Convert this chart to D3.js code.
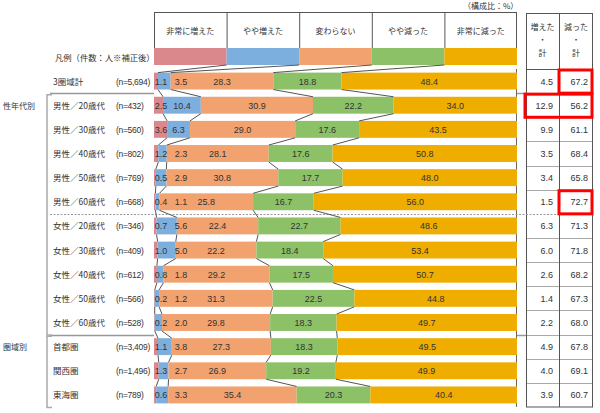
<!DOCTYPE html>
<html><head><meta charset="utf-8">
<script src="https://cdn.jsdelivr.net/npm/d3@7"></script>
<style>
html,body{margin:0;padding:0;background:#fff;}
svg text{font-family:"Noto Sans CJK JP","Liberation Sans",sans-serif;fill:#333;}
.num{font-family:"Liberation Sans",Arial,sans-serif;}
</style></head>
<body>
<svg id="c" width="600" height="413"></svg>
<script>
const categories = ["3圏域計","男性／20歳代","男性／30歳代","男性／40歳代","男性／50歳代","男性／60歳代","女性／20歳代","女性／30歳代","女性／40歳代","女性／50歳代","女性／60歳代","首都圏","関西圏","東海圏"];
const nLabels = ["(n=5,694)","(n=432)","(n=560)","(n=802)","(n=769)","(n=668)","(n=346)","(n=409)","(n=612)","(n=566)","(n=528)","(n=3,409)","(n=1,496)","(n=789)"];
const seriesNames = ["非常に増えた","やや増えた","変わらない","やや減った","非常に減った"];
const seriesColors = ["#DA888C","#7DAFDE","#F2A26E","#8CC168","#EFAD00"];
const veryInc = [1.1,2.5,3.6,1.2,0.5,0.4,0.7,1.0,0.8,0.2,0.2,1.1,1.3,0.6];
const someInc = [3.5,10.4,6.3,2.3,2.9,1.1,5.6,5.0,1.8,1.2,2.0,3.8,2.7,3.3];
const same    = [28.3,30.9,29.0,28.1,30.8,25.8,22.4,22.2,29.2,31.3,29.8,27.3,26.9,35.4];
const someDec = [18.8,22.2,17.6,17.6,17.7,16.7,22.7,18.4,17.5,22.5,18.3,18.3,19.2,20.3];
const veryDec = [48.4,34.0,43.5,50.8,48.0,56.0,48.6,53.4,50.7,44.8,49.7,49.5,49.9,40.4];
const incTotal = [4.5,12.9,9.9,3.5,3.4,1.5,6.3,6.0,2.6,1.4,2.2,4.9,4.0,3.9];
const decTotal = [67.2,56.2,61.1,68.4,65.8,72.7,71.3,71.8,68.2,67.3,68.0,67.8,69.1,60.7];
const groups = [{label:"性年代別", from:1, to:10},{label:"圏域別", from:11, to:13}];
const highlights = [{row:0, cols:[1]},{row:1, cols:[0,1]},{row:5, cols:[1]}];
const tableHeads = [["増えた","・","計"],["減った","・","計"]];

const svg = d3.select("#c");
const X0 = 154, X1 = 517;
const x = d3.scaleLinear().domain([0,100]).range([X0, X1]);
const y = d3.scaleBand().domain(categories).range([69, 407]).paddingInner(0.3).paddingOuter(0.15);
const bw = y.bandwidth();
const leg = d3.scaleBand().domain(seriesNames).range([X0, X1]);
const TX = [526, 559, 593];

const rows = categories.map((c,i)=>{
  const vals = [veryInc[i], someInc[i], same[i], someDec[i], veryDec[i]];
  const tot = d3.sum(vals);
  let acc = 0;
  const segs = vals.map((v,k)=>{ const s = acc/tot*100; acc += v; return {k, v, s, e: acc/tot*100}; });
  return {c, i, segs};
});

// header boxes
const hg = svg.append("g");
hg.append("line").attr("x1",X0).attr("x2",X1).attr("y1",12.5).attr("y2",12.5).attr("stroke","#555");
seriesNames.forEach((s)=>{
  hg.append("line").attr("x1",leg(s)+0.5).attr("x2",leg(s)+0.5).attr("y1",12).attr("y2",48).attr("stroke","#555");
  hg.append("text").attr("x",leg(s)+leg.bandwidth()/2).attr("y",34).attr("text-anchor","middle").attr("font-size",8).text(s);
  hg.append("rect").attr("x",leg(s)).attr("y",48).attr("width",leg.bandwidth()).attr("height",17).attr("fill",seriesColors[seriesNames.indexOf(s)]);
});
hg.append("line").attr("x1",X1-0.5).attr("x2",X1-0.5).attr("y1",12).attr("y2",48).attr("stroke","#555");
svg.append("text").attr("x",463).attr("y",9).attr("font-size",8).text("（構成比：%）");
svg.append("text").attr("x",55).attr("y",61).attr("font-size",8.3).text("凡例（件数：人※補正後）");

// right axis line
svg.append("line").attr("x1",X1-0.5).attr("x2",X1-0.5).attr("y1",69).attr("y2",407).attr("stroke","#666");

// table row lines
const tg = svg.append("g");
for (let i=1;i<rows.length;i++){
  if (i===6) continue;
  const yy = Math.round(69 + y.step()*i)+0.5;
  tg.append("line").attr("x1",TX[0]).attr("x2",TX[2]).attr("y1",yy).attr("y2",yy).attr("stroke","#aaa");
}

// separators
const sepY = (a)=> (y(categories[a]) + bw + y(categories[a+1]))/2;
[[0,"solid"],[10,"solid"]].forEach(([a])=>{
  const yy = Math.round(sepY(a))+0.5;
  [[50,X0],[X1,526]].forEach(([xa,xb])=>{
    svg.append("line").attr("x1",xa).attr("x2",xb).attr("y1",yy).attr("y2",yy)
      .attr("stroke","#999").attr("stroke-width",1.5);
  });
});
{
  const yy = Math.round(sepY(5))+0.5;
  svg.append("line").attr("x1",50).attr("x2",TX[2]).attr("y1",yy).attr("y2",yy)
    .attr("stroke","#999").attr("stroke-dasharray","2,1.5");
}

// bars
const bg = svg.append("g");
rows.forEach(r=>{
  bg.selectAll(null).data(r.segs).enter().append("rect")
    .attr("x",d=>x(d.s)).attr("width",d=>Math.max(0,x(d.e)-x(d.s)))
    .attr("y",y(r.c)).attr("height",bw).attr("fill",d=>seriesColors[d.k]);
});
// connectors
const cg = svg.append("g").attr("stroke","#555").attr("stroke-width",1).attr("fill","none");
for (let k=1;k<5;k++){
  cg.append("line").attr("x1",leg(seriesNames[k])).attr("y1",65).attr("x2",x(rows[0].segs[k].s)).attr("y2",y(categories[0]));
}
for (let i=0;i<rows.length-1;i++){
  for (let k=1;k<5;k++){
    cg.append("line").attr("x1",x(rows[i].segs[k].s)).attr("y1",y(categories[i])+bw)
      .attr("x2",x(rows[i+1].segs[k].s)).attr("y2",y(categories[i+1]));
  }
}
// value labels
const minC = [161, 181, 0, 0, 0];
rows.forEach(r=>{
  r.segs.forEach(d=>{
    let cx = (x(d.s)+x(d.e))/2;
    if (d.k<2) cx = Math.max(cx, minC[d.k]);
    if (d.k===1 && r.i===2) cx = (x(d.s)+x(d.e))/2;
    svg.append("text").attr("class","num").attr("x",cx).attr("y",y(r.c)+bw/2+3.5)
      .attr("text-anchor","middle").attr("font-size",9).text(d.v.toFixed(1));
  });
});

// category labels
rows.forEach(r=>{
  const cy = y(r.c)+bw/2+3.5;
  svg.append("text").attr("x",53).attr("y",cy).attr("font-size",8.5).text(r.c);
  svg.append("text").attr("class","num").attr("x",116).attr("y",cy).attr("font-size",8.5).attr("letter-spacing",-0.3).text(nLabels[r.i]);
});
// groups
groups.forEach(g=>{
  const yt = y(categories[g.from]) - 2, yb = y(categories[g.to]) + bw + 4;
  svg.append("text").attr("x",3).attr("y",y(categories[g.from])+bw/2+3.5).attr("font-size",8).text(g.label);
  svg.append("path").attr("d",`M52,${yt}H47V${yb}H52`).attr("fill","none").attr("stroke","#aaa").attr("stroke-width",1.5);
});

// right table
tableHeads.forEach((h,j)=>{
  const cx = (TX[j]+TX[j+1])/2;
  h.forEach((t,l)=>{
    tg.append("text").attr("x",cx).attr("y",30+l*13).attr("text-anchor","middle").attr("font-size",8).text(t);
  });
});
tg.append("line").attr("x1",TX[0]).attr("x2",TX[2]).attr("y1",69.5).attr("y2",69.5).attr("stroke","#555");
tg.append("rect").attr("x",TX[0]+0.5).attr("y",13.5).attr("width",TX[2]-TX[0]-1).attr("height",407-13.5).attr("fill","none").attr("stroke","#555");
tg.append("line").attr("x1",TX[1]+0.5).attr("x2",TX[1]+0.5).attr("y1",13).attr("y2",407).attr("stroke","#555");
rows.forEach(r=>{
  const cy = y(r.c)+bw/2+3.5;
  tg.append("text").attr("class","num").attr("x",TX[1]-6).attr("y",cy).attr("text-anchor","end").attr("font-size",9).text(incTotal[r.i].toFixed(1));
  tg.append("text").attr("class","num").attr("x",TX[2]-5).attr("y",cy).attr("text-anchor","end").attr("font-size",9).text(decTotal[r.i].toFixed(1));
});
// highlights
highlights.forEach(h=>{
  const xa = TX[d3.min(h.cols)], xb = TX[d3.max(h.cols)+1];
  const ya = 69 + y.step()*h.row, yb = ya + y.step();
  svg.append("rect").attr("x",xa+(h.cols.length>1?-1:0)).attr("y",ya+1).attr("width",xb-xa-(h.cols.length>1?0:1)).attr("height",yb-ya-1)
    .attr("fill","none").attr("stroke","#f00").attr("stroke-width",3);
});
</script>
</body></html>
